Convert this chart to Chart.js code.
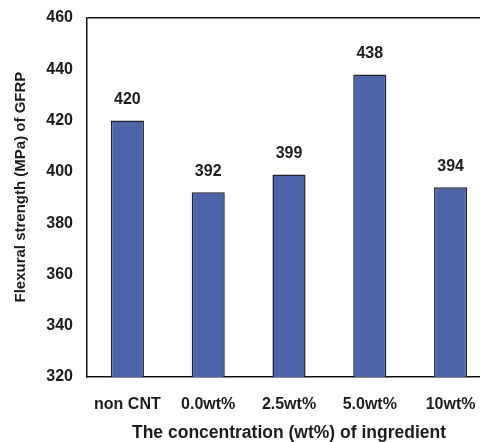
<!DOCTYPE html>
<html>
<head>
<meta charset="utf-8">
<script src="https://cdn.jsdelivr.net/npm/chart.js@4"></script>
<style>
html,body{margin:0;padding:0;background:#fff;overflow:hidden;width:480px;height:442px}
canvas{display:block}
</style>
</head>
<body>
<canvas id="chart" width="492" height="442"></canvas>
<script>
const categories = ["non CNT", "0.0wt%", "2.5wt%", "5.0wt%", "10wt%"]
const strength = [420, 392, 399, 438, 394]
const yTicks = [320, 340, 360, 380, 400, 420, 440, 460]

const font = "'Liberation Sans', Arial, sans-serif"
const ink = "#1c1c1c"

// value labels on top of bars
const valueLabels = {
  id: "valueLabels",
  afterDatasetsDraw(chart){
    const c = chart.ctx
    const meta = chart.getDatasetMeta(0)
    c.save()
    c.font = "bold 16px " + font
    c.fillStyle = ink
    c.textAlign = "center"
    c.textBaseline = "middle"
    meta.data.forEach((bar, i) => {
      c.fillText(String(strength[i]), bar.x, bar.y - 21)
    })
    c.restore()
  }
}

new Chart(document.getElementById("chart"), {
  type: "bar",
  data: {
    labels: categories,
    datasets: [{
      data: strength,
      backgroundColor: "#4c65a8",
      borderColor: "#1e2230",
      borderWidth: 1.5,
      borderSkipped: "bottom",
      categoryPercentage: 1,
      barPercentage: 0.41
    }]
  },
  options: {
    responsive: false,
    animation: false,
    layout: { padding: { top: 18, right: 1, left: 0, bottom: 0 } },
    plugins: { legend: { display: false }, tooltip: { enabled: false } },
    scales: {
      x: {
        grid: { display: false },
        border: { display: true, color: "#111", width: 1.5 },
        ticks: { color: ink, font: { family: font, size: 16, weight: "bold" }, padding: 10, maxRotation: 0, autoSkip: false },
        title: {
          display: true,
          text: "The concentration (wt%) of ingredient",
          color: ink,
          font: { family: font, size: 17.5, weight: "bold" },
          padding: { top: 0, bottom: -2 }
        },
        afterFit(s){ s.height = 65 }
      },
      y: {
        min: 320,
        max: 460,
        afterBuildTicks(s){ s.ticks = yTicks.map(v => ({ value: v })) },
        grid: {
          drawTicks: false,
          lineWidth: 1.5,
          color: ctx => ctx.tick && ctx.tick.value === 460 ? "#111" : "rgba(0,0,0,0)"
        },
        border: { display: true, color: "#111", width: 1.5 },
        ticks: { color: ink, font: { family: font, size: 16, weight: "bold" }, padding: 14 },
        title: {
          display: true,
          text: "     Flexural strength (MPa) of GFRP",
          color: ink,
          font: { family: font, size: 15, weight: "bold" },
          padding: { top: 12, bottom: 0 }
        },
        afterFit(s){
          s.width = 87
          s.paddingTop = 0
          s.paddingBottom = 0
        }
      }
    }
  },
  plugins: [valueLabels]
})
</script>
</body>
</html>
